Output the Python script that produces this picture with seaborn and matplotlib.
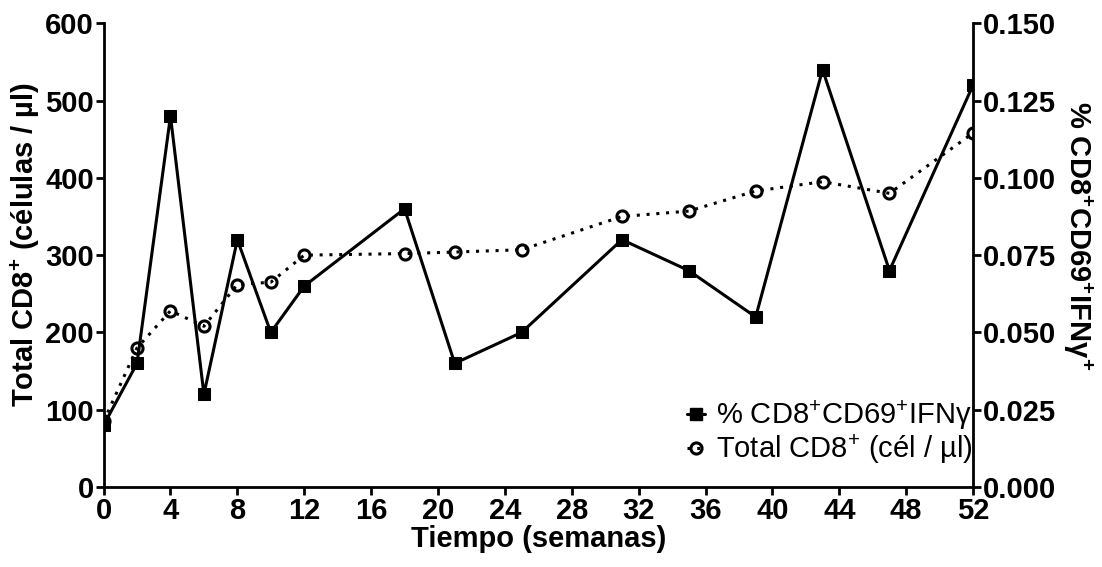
import matplotlib
matplotlib.use("Agg")
import matplotlib.pyplot as plt
import seaborn as sns
import pandas as pd
from matplotlib.lines import Line2D

weeks = [0, 2, 4, 6, 8, 10, 12, 18, 21, 25, 31, 35, 39, 43, 47, 52]
pct_cd69_ifng = [0.020, 0.040, 0.120, 0.030, 0.080, 0.050, 0.065, 0.090,
                 0.040, 0.050, 0.080, 0.070, 0.055, 0.135, 0.070, 0.130]
total_cd8 = [85, 180, 228, 208, 262, 265, 300, 302, 304, 307, 350, 357,
             383, 395, 380, 458]
x_ticks = list(range(0, 53, 4))
left_ticks = [0, 100, 200, 300, 400, 500, 600]
right_ticks = [0.000, 0.025, 0.050, 0.075, 0.100, 0.125, 0.150]

df = pd.DataFrame({"week": weeks, "pct": pct_cd69_ifng, "total": total_cd8})

sns.set_style("ticks")
plt.rcParams["font.family"] = ["Liberation Sans", "DejaVu Sans"]
plt.rcParams["mathtext.fontset"] = "custom"
plt.rcParams["mathtext.rm"] = "Liberation Sans"
plt.rcParams["mathtext.bf"] = "Liberation Sans:bold"
plt.rcParams["mathtext.it"] = "Liberation Sans:italic"
for k in ["text.color", "axes.labelcolor", "xtick.color", "ytick.color",
          "axes.edgecolor"]:
    plt.rcParams[k] = "black"

FS = 21

fig = plt.figure(figsize=(11.02, 5.67), dpi=100)
ax = fig.add_axes([0.094, 0.141, 0.789, 0.818])
ax2 = ax.twinx()

sns.lineplot(data=df, x="week", y="total", ax=ax, color="black",
             linestyle=(0, (1, 2.2)), linewidth=2.2, marker="o",
             markersize=8, markerfacecolor="none", markeredgecolor="black",
             markeredgewidth=2.2)
sns.lineplot(data=df, x="week", y="pct", ax=ax2, color="black",
             linestyle="-", linewidth=2.2, marker="s", markersize=9,
             markerfacecolor="black", markeredgecolor="black")

ax.set_xlim(0, 52)
ax.set_ylim(0, 600)
ax2.set_ylim(0, 0.150)
ax.set_xticks(x_ticks)
ax.set_yticks(left_ticks)
ax2.set_yticks(right_ticks)
ax2.set_yticklabels([f"{v:.3f}" for v in right_ticks])

for a in (ax, ax2):
    a.spines["top"].set_visible(False)
    for s in a.spines.values():
        s.set_linewidth(2)
        s.set_color("black")
    a.tick_params(width=2, length=6, labelsize=FS, colors="black", pad=1)
    for lab in a.get_xticklabels() + a.get_yticklabels():
        lab.set_fontweight("bold")
ax2.spines["left"].set_visible(False)
ax2.spines["bottom"].set_visible(False)
ax.spines["right"].set_visible(False)

ax.set_xlabel("Tiempo (semanas)", fontsize=FS, fontweight="bold", labelpad=0)
ax.set_ylabel(r"Total CD8$^{\mathbf{+}}$ (células / µl)", fontsize=FS,
              fontweight="bold")
ax.yaxis.set_label_coords(-0.071, 0.522)
ax2.set_ylabel(r"% CD8$^{\mathbf{+}}$CD69$^{\mathbf{+}}$IFNγ$^{\mathbf{+}}$",
               fontsize=FS, fontweight="bold", rotation=270)
ax2.yaxis.set_label_coords(1.14, 0.543)

handles = [
    Line2D([], [], color="black", linestyle="-", linewidth=2.2, marker="s",
           markersize=9, markerfacecolor="black"),
    Line2D([], [], color="black", linestyle=(0, (1, 2.2)), linewidth=2.2,
           marker="o", markersize=8, markerfacecolor="none",
           markeredgewidth=2.2),
]
labels = [r"% CD8$^{\mathrm{+}}$CD69$^{\mathrm{+}}$IFNγ",
          r"Total CD8$^{\mathrm{+}}$ (cél / µl)"]
ax2.legend(handles, labels, loc="lower right", bbox_to_anchor=(1.0, 0.045),
           frameon=False, fontsize=FS, handlelength=0.6, handletextpad=0.4,
           labelspacing=0.0, borderpad=0.0, borderaxespad=0.0)

ax.set_zorder(ax2.get_zorder() + 1)
ax.patch.set_visible(False)

fig.savefig("out.png", dpi=100)
